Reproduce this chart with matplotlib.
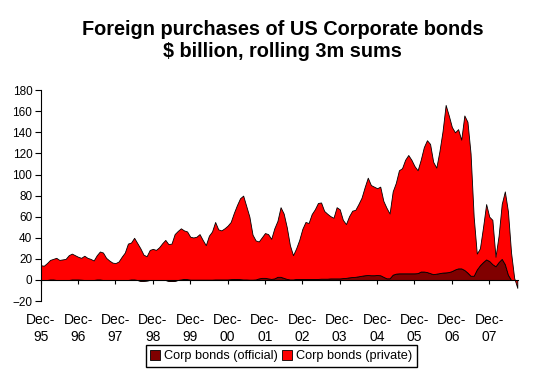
import matplotlib
matplotlib.use("Agg")
import matplotlib.pyplot as plt
import numpy as np

plt.rcParams["font.family"] = ["Liberation Sans", "DejaVu Sans"]

# monthly, Dec-95 .. Sep-08, $ billion (rolling 3m sums)
official = [
    0, 0, 0, 0.5, 0.5, 0, 0, 0, 0, 0, 0.5, 0.5,
    0.5, 0.3, 0, 0, 0, 0, 0.5, 0.5, 0, 0, 0, 0,
    0, 0, 0, 0, 0, 0.5, 0.5, 0, -0.8, -0.8, -0.5, 0,
    0, 0, 0, 0, 0, -0.8, -1, -0.8, 0, 0.5, 1, 0.8,
    0.3, 0.3, 0.3, 0.3, 0.3, 0.3, 0.3, 0.3, 0.5, 0.5, 0.5, 0.5,
    0.5, 0.8, 1, 1, 0.8, 0.5, 0.5, 0.3, 0.3, 0.5, 1.5, 2,
    2, 1.5, 1, 1.5, 3, 3, 2, 1, 0.5, 0.5, 1, 1,
    1, 1, 1, 1, 1, 1, 1.2, 1.2, 1.2, 1.5, 1.5, 1.5,
    1.5, 1.8, 2, 2.5, 2.8, 3, 3.5, 4, 4.5, 4.7, 4.5, 4.5,
    4.7, 4.5, 3, 1.6, 1.6, 5, 6, 6.3, 6.3, 6.3, 6.3, 6.3,
    6.3, 6.5, 8, 8, 7.5, 6.5, 5.5, 6, 6.5, 7, 7.2, 7.5,
    8.5, 10, 11, 11, 9.5, 7, 4, 4, 10, 14, 17, 19.5,
    18, 15, 13, 17, 20, 15, 5, 0, 0, 0,
]
private = [
    14, 13.5, 16, 18.5, 19.5, 21, 19, 19.5, 20, 23.5, 24.5, 23,
    21.5, 20.7, 23, 21, 20, 18.5, 23, 26.5, 26, 21, 18.5, 16.5,
    16, 17.5, 22, 26, 34.5, 35, 39.5, 35, 30.8, 24.8, 23, 28.5,
    29.5, 28.5, 31, 34.8, 38, 34.8, 35.5, 44.3, 46.5, 48.5, 46, 45.2,
    40.7, 40, 40.7, 43.2, 37.7, 32.7, 41.7, 45.7, 54.5, 47.5, 46.5, 48.5,
    51, 54.2, 62.5, 70, 76.7, 79.5, 69.5, 59.7, 42.7, 37, 35, 38.5,
    42.5, 42, 38, 47.5, 53, 66, 61, 49, 32.5, 23, 29, 37,
    47.5, 54, 53, 61.5, 66, 72, 72.3, 64.3, 61.6, 59, 57.5, 67.5,
    65.5, 55.2, 51, 58, 62.9, 63.5, 68.5, 74, 83.5, 92.3, 85.5, 84,
    82.3, 84, 72, 66.9, 61.4, 79, 86, 97.7, 99.7, 107.7, 112.2, 107.7,
    101.7, 97.5, 106, 118, 125, 122.5, 106.5, 100.5, 115.5, 134, 158.8, 148.5,
    136.5, 130, 132, 122, 146.5, 143, 116, 56, 15, 16, 33, 52.5,
    42, 42, 9, 25, 52, 69, 60, 26, 2, -7.5,
]
year_labels = ["Dec-\n95", "Dec-\n96", "Dec-\n97", "Dec-\n98", "Dec-\n99",
               "Dec-\n00", "Dec-\n01", "Dec-\n02", "Dec-\n03", "Dec-\n04",
               "Dec-\n05", "Dec-\n06", "Dec-\n07"]
y_ticks = list(range(-20, 181, 20))

months = np.arange(len(private))

fig = plt.figure(figsize=(5.47, 3.74), dpi=100)
ax = fig.add_axes([0.0744, 0.195, 0.873, 0.564])

ax.stackplot(months, official, private,
             colors=["#800000", "#ff0000"],
             labels=["Corp bonds (official)", "Corp bonds (private)"],
             edgecolor="black", linewidth=0.6)

ax.set_xlim(0, len(private) - 0.7)
ax.set_ylim(-20, 180)
ax.set_yticks(y_ticks)
ax.set_xticks(np.arange(0, len(private), 12))
ax.set_xticklabels(year_labels, fontsize=8.5, linespacing=1.2)

for side in ("top", "right"):
    ax.spines[side].set_visible(False)
ax.spines["bottom"].set_position(("data", 0))
ax.spines["bottom"].set_linewidth(0.8)
ax.spines["left"].set_linewidth(0.8)
ax.tick_params(axis="x", direction="out", length=3, width=0.8, pad=21)
ax.tick_params(axis="y", direction="out", length=4, width=0.8, labelsize=8.5, pad=2)

fig.text(0.517, 0.947, "Foreign purchases of US Corporate bonds\n$ billion, rolling 3m sums",
         ha="center", va="top", fontsize=14.3, fontweight="bold", linespacing=1.2)

fig.legend(loc="center", bbox_to_anchor=(0.514, 0.048), ncol=2, fontsize=9.2,
           frameon=True, fancybox=False, edgecolor="black", framealpha=1,
           handlelength=0.8, handleheight=0.8, handletextpad=0.3,
           columnspacing=0.3, borderpad=0.35, borderaxespad=0)

fig.savefig("out.png", dpi=100)
